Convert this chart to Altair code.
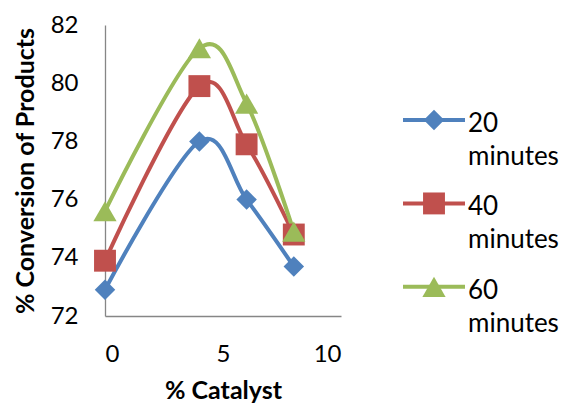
import altair as alt
import pandas as pd

catalyst = [0, 4, 6, 8]
series_names = ["20 minutes", "40 minutes", "60 minutes"]
conv_20 = [72.9, 78.0, 76.0, 73.7]
conv_40 = [73.9, 79.9, 77.9, 74.8]
conv_60 = [75.6, 81.2, 79.3, 74.9]
colors = ["#4F81BD", "#C0504D", "#9BBB59"]
shapes = ["diamond", "square", "triangle-up"]
x_ticks = [0, 5, 10]
y_ticks = [72, 74, 76, 78, 80, 82]

rows = []
for name, vals in zip(series_names, [conv_20, conv_40, conv_60]):
    for x, v in zip(catalyst, vals):
        rows.append({"catalyst": x, "conversion": v, "series": name})
df = pd.DataFrame(rows)

FONT = "Lato"
color_scale = alt.Scale(domain=series_names, range=colors)
shape_scale = alt.Scale(domain=series_names, range=shapes)

base = alt.Chart(df).encode(
    x=alt.X("catalyst:Q", scale=alt.Scale(domain=[0, 10], nice=False),
            axis=alt.Axis(values=x_ticks, title="% Catalyst", labelPadding=26,
                          titlePadding=12)),
    y=alt.Y("conversion:Q", scale=alt.Scale(domain=[72, 82], nice=False, zero=False),
            axis=alt.Axis(values=y_ticks, title="% Conversion of Products",
                          labelPadding=27, titlePadding=12)),
    color=alt.Color("series:N", scale=color_scale, legend=None),
)
lines = base.mark_line(interpolate="cardinal", strokeWidth=4)
points = base.mark_point(filled=True, opacity=1).encode(
    shape=alt.Shape("series:N", scale=shape_scale, legend=None),
    size=alt.Size("series:N", scale=alt.Scale(domain=series_names, range=[420, 540, 460]), legend=None),
)
main = (lines + points).properties(width=236, height=291)

leg_df = pd.DataFrame({"series": series_names, "idx": list(range(len(series_names)))})
leg_df["x0"] = 0.0
leg_df["x1"] = 1.0
leg_df["xm"] = 0.5
yleg = alt.Y("idx:Q", scale=alt.Scale(domain=[-1.14, 2.35], reverse=True, nice=False, zero=False), axis=None)
lbase = alt.Chart(leg_df).encode(
    y=yleg,
    color=alt.Color("series:N", scale=color_scale, legend=None),
)
lrule = lbase.mark_rule(strokeWidth=4).encode(
    x=alt.X("x0:Q", scale=alt.Scale(domain=[0, 1], nice=False), axis=None), x2="x1:Q")
lpoint = lbase.mark_point(filled=True, opacity=1).encode(
    x=alt.X("xm:Q", scale=alt.Scale(domain=[0, 1], nice=False), axis=None),
    shape=alt.Shape("series:N", scale=shape_scale, legend=None),
    size=alt.Size("series:N", scale=alt.Scale(domain=series_names, range=[200, 400, 380]), legend=None),
)
ltext = alt.Chart(leg_df).mark_text(align="left", baseline="middle", dx=3, dy=4, lineBreak=" ",
                                    lineHeight=33, fontSize=26, font=FONT, color="#000000").encode(
    x=alt.X("x1:Q", scale=alt.Scale(domain=[0, 1], nice=False), axis=None),
    y=yleg,
    text="series:N",
)
legend = (lrule + lpoint + ltext).properties(width=62, height=291)

chart = alt.hconcat(main, legend, spacing=60).properties(
    padding={"left": 5, "top": 5, "right": 0, "bottom": 5}
).configure_view(stroke=None).configure_axis(
    grid=False, ticks=False, tickSize=0, domainColor="#868686", domainWidth=1.3,
    labelFont=FONT, labelFontSize=24, labelColor="#000000",
    titleFont=FONT, titleFontSize=25, titleFontWeight="bold", titleColor="#000000",
)

chart.save("out.html", embed_options={"renderer": "svg", "actions": False})
